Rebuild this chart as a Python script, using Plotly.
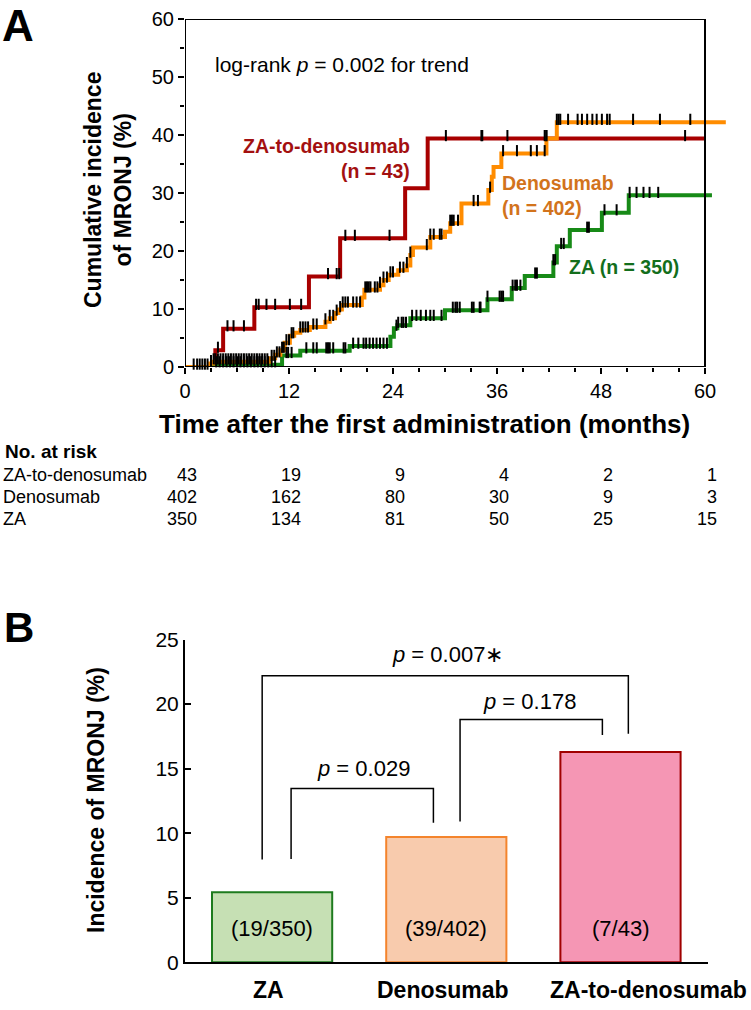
import plotly.graph_objects as go

W, H = 751, 1010
FONT = 'Liberation Sans, Arial, sans-serif'

# ---- Panel A: cumulative incidence steps (months, %) ----
zad_t = [0, 3.5, 4.4, 8.0, 14.3, 17.9, 25.4, 28.0, 60.0]
zad_v = [0, 2.9, 6.6, 10.3, 15.6, 22.2, 30.8, 39.4, 39.4]

den_t = [0, 2.9, 3.3, 9.8, 10.4, 11.0, 11.5, 12.1, 12.6, 13.3, 14.4, 16.2, 16.7, 17.3,
         17.7, 18.1, 20.4, 20.7, 22.5, 22.9, 23.5, 24.6, 25.6, 26.0, 26.3, 28.3, 30.0,
         30.6, 31.9, 35.0, 35.4, 35.6, 36.5, 41.7, 42.9, 62.4]
den_v = [0, 0.6, 0.9, 1.5, 2.1, 2.9, 4.2, 5.4, 5.9, 6.4, 6.9, 7.8, 8.4, 9.3,
         9.9, 10.7, 12.0, 13.3, 14.1, 15.0, 15.9, 16.7, 17.5, 19.3, 20.6, 22.4, 23.3,
         24.8, 28.2, 30.5, 32.8, 34.5, 36.8, 39.4, 42.2, 42.2]

za_t = [0, 3.3, 11.2, 13.3, 19.0, 23.7, 24.1, 24.5, 26.0, 30.0, 34.9, 37.7, 39.2,
        42.5, 42.9, 44.4, 48.1, 51.2, 60.8]
za_v = [0, 0.4, 2.0, 2.8, 3.6, 5.2, 6.7, 7.2, 8.4, 9.8, 11.7, 13.6, 15.7,
        18.0, 20.8, 23.6, 26.6, 29.6, 29.6]

# censored observations (months)
zad_cens = [3.8, 4.9, 5.6, 6.8, 8.2, 8.5, 9.4, 10.4, 12.1, 13.4, 16.5, 17.5, 17.8,
            18.5, 19.6, 23.6, 30.1, 34.2, 34.3, 37.2, 41.5, 41.7, 57.7]
den_cens = [1.0, 1.4, 1.7, 2.0, 2.3, 2.6, 3.0, 3.3, 3.5, 3.8, 4.1, 4.4, 4.7, 5.0, 5.3,
            5.6, 5.9, 6.2, 6.5, 6.8, 7.1, 7.4, 7.7, 8.0, 8.3, 8.6, 8.9, 9.2, 9.5,
            10.0, 10.3, 10.6, 10.9, 11.2, 11.4, 11.7, 12.0, 12.3, 12.5, 13.3, 13.6,
            13.9, 14.2, 14.8, 15.2, 16.2, 16.7, 17.1, 17.5, 17.9, 18.2, 18.5, 18.8,
            19.4, 19.8, 20.2, 20.8, 21.0, 21.2, 21.4, 21.9, 22.2, 22.5, 22.9, 23.3,
            23.7, 24.0, 24.8, 25.2, 25.6, 26.0, 27.9, 28.3, 28.7, 29.4, 29.6, 30.6,
            30.8, 31.0, 31.5, 33.3, 33.8, 35.2, 36.7, 38.3, 39.9, 40.6, 41.5, 41.7,
            42.9, 43.1, 43.3, 44.2, 45.3, 45.8, 46.4, 47.0, 47.5, 48.1, 48.7, 49.0,
            51.7, 54.8, 58.3, 60.0]
za_cens = [3.6, 4.0, 4.4, 4.8, 5.2, 5.6, 6.0, 6.4, 6.8, 7.2, 7.6, 8.0, 8.4, 8.8, 9.2,
           9.6, 10.0, 10.4, 11.7, 11.9,
           12.3, 14.0, 14.8, 15.2, 16.3, 16.5, 16.7, 17.1, 18.3, 18.5, 19.4, 20.0,
           20.6, 20.9, 21.3, 21.7, 22.1, 22.5, 22.9, 23.3, 24.4, 24.6, 25.0, 25.2,
           25.5, 26.2, 26.7, 27.2, 27.8, 28.3, 28.7, 29.6, 30.9, 31.2, 31.4, 31.7,
           33.1, 33.3, 34.0, 34.1, 34.9, 36.3, 36.5, 36.7, 37.8, 38.1, 38.3, 38.7,
           40.4, 40.6, 42.5, 42.7, 43.4, 43.7, 46.4, 46.6, 48.4, 49.8, 51.3, 52.1,
           52.9, 53.6, 54.6]

risk_months = [0, 12, 24, 36, 48, 60]
risk_zad = [43, 19, 9, 4, 2, 1]
risk_den = [402, 162, 80, 30, 9, 3]
risk_za = [350, 134, 81, 50, 25, 15]

# ---- Panel B ----
groups = ['ZA', 'Denosumab', 'ZA-to-denosumab']
incidence = [5.43, 9.70, 16.28]
counts = ['(19/350)', '(39/402)', '(7/43)']
p_texts = ['<i>p</i> = 0.029', '<i>p</i> = 0.178', '<i>p</i> = 0.007\u2217']

RED, ORANGE, GREEN = '#a80000', '#ff8c00', '#178a17'


def px(x):
    return x / W


def py(y):
    return 1 - y / H


def step_at(times, values, t):
    v = values[0]
    for tt, vv in zip(times, values):
        if tt <= t:
            v = vv
    return v


fig = go.Figure()

for t, v, c in [(zad_t, zad_v, RED), (za_t, za_v, GREEN), (den_t, den_v, ORANGE)]:
    fig.add_trace(go.Scatter(x=t, y=v, mode='lines', line=dict(color=c, width=4, shape='hv'),
                             xaxis='x', yaxis='y', hoverinfo='skip'))

for t, v, cens in [(zad_t, zad_v, zad_cens), (za_t, za_v, za_cens), (den_t, den_v, den_cens)]:
    fig.add_trace(go.Scatter(
        x=cens, y=[step_at(t, v, c) + 0.5 for c in cens], mode='markers',
        marker=dict(symbol='line-ns', size=8, line=dict(color='black', width=2)),
        xaxis='x', yaxis='y', cliponaxis=False, hoverinfo='skip'))

fig.add_trace(go.Bar(
    x=[0, 1, 2], y=incidence, width=0.69, xaxis='x2', yaxis='y2',
    marker=dict(color=['#c6e0b4', '#f8cbad', '#f596b4'],
                line=dict(color=['#1e7b1e', '#f4842c', '#a00000'], width=2)),
    hoverinfo='skip'))

# panel A: 0 month at 185px, 8.667 px/month ; 0% at 367px, 5.8 px/%
xa_dom = [px(185), px(185 + 62.5 * 8.667)]
ya_dom = [py(367), py(19)]
xb_dom = [px(185), px(707.6)]
yb_dom = [py(962.3), py(639.5)]

tickfont = dict(family=FONT, size=20, color='black')

fig.update_layout(
    width=W, height=H, margin=dict(l=0, r=0, t=0, b=0, pad=0, autoexpand=False),
    paper_bgcolor='white', plot_bgcolor='white', showlegend=False,
    font=dict(family=FONT, color='black'),
    xaxis=dict(domain=xa_dom, range=[0, 62.5], tickvals=risk_months, ticks='outside',
               ticklen=6, tickwidth=1.5, tickcolor='black', showgrid=False, zeroline=False,
               showline=False, tickfont=tickfont, anchor='y', automargin=False,
               minor=dict(dtick=3, tick0=0, ticks='outside', ticklen=4, tickwidth=1.5,
                          tickcolor='black', showgrid=False)),
    yaxis=dict(domain=ya_dom, range=[0, 60], dtick=10, ticks='outside', ticklen=6,
               tickwidth=1.5, tickcolor='black', showgrid=False, zeroline=False,
               showline=False, tickfont=tickfont, anchor='x', automargin=False,
               minor=dict(dtick=5, ticks='outside', ticklen=4, tickwidth=1.5,
                          tickcolor='black', showgrid=False)),
    xaxis2=dict(domain=xb_dom, range=[-0.5, 2.5], showticklabels=False, ticks='',
                showgrid=False, zeroline=False, showline=True, linecolor='black',
                linewidth=2, anchor='y2', automargin=False),
    yaxis2=dict(domain=yb_dom, range=[0, 25], dtick=5, ticks='inside', ticklen=6,
                tickwidth=1.5, tickcolor='black', showgrid=False, zeroline=False,
                showline=True, linecolor='black', linewidth=2, anchor='x2',
                automargin=False, tickfont=dict(family=FONT, size=21, color='black')),
)

shapes = [dict(type='rect', xref='x', yref='y', x0=0, x1=60, y0=0, y1=60,
               line=dict(color='black', width=2), layer='above')]

# significance brackets in panel B: (x_left, y_left, x_right, y_right, top)
brackets = [(0.109, 8.0, 0.926, 10.8, 13.47),
            (1.079, 10.9, 1.896, 17.6, 18.8),
            (-0.057, 7.97, 2.045, 17.7, 22.2)]
for x0, y0, x1, y1, top in brackets:
    shapes.append(dict(type='path', xref='x2', yref='y2',
                       path=f'M{x0},{y0} L{x0},{top} L{x1},{top} L{x1},{y1}',
                       line=dict(color='black', width=1.5)))
fig.update_layout(shapes=shapes)

ann = []


def add_text(text, x, y, size, color='black', xanchor='center', yanchor='middle',
             xref='paper', yref='paper', angle=0, align='center'):
    ann.append(dict(text=text, x=x, y=y, xref=xref, yref=yref, showarrow=False,
                    xanchor=xanchor, yanchor=yanchor, textangle=angle, align=align,
                    font=dict(family=FONT, size=size, color=color)))


add_text('<b>A</b>', px(0), py(25), 44, xanchor='left')
add_text('<b>B</b>', px(2), py(627), 42, xanchor='left')

add_text('<b>Cumulative incidence<br>of MRONJ (%)</b>', px(108), py(190), 23, angle=-90)
add_text('<b>Time after the first administration (months)</b>', px(424), py(424), 26)
add_text('log-rank <i>p</i> = 0.002 for trend', px(213), py(64), 21, xanchor='left')

add_text('<b>ZA-to-denosumab<br>(n = 43)</b>', px(412), py(158), 19.5, color='#a31010',
         xanchor='right', align='right')
add_text('<b>Denosumab<br>(n = 402)</b>', px(500), py(196), 19.5, color='#d2731c',
         xanchor='left', align='left')
add_text('<b>ZA (n = 350)</b>', px(567), py(267), 19.5, color='#136e1c', xanchor='left')

# number at risk table
add_text('<b>No. at risk</b>', px(3), py(452), 19, xanchor='left')
for row, (name, vals) in enumerate([('ZA-to-denosumab', risk_zad),
                                    ('Denosumab', risk_den), ('ZA', risk_za)]):
    yy = py(475 + 22 * row)
    add_text(name, px(1), yy, 18, xanchor='left')
    for m, n in zip(risk_months, vals):
        ann.append(dict(text=str(n), x=m, y=yy, xref='x', yref='paper', xshift=14,
                        showarrow=False, xanchor='right', yanchor='middle',
                        font=dict(family=FONT, size=18, color='black')))

# panel B texts
add_text('<b>Incidence of MRONJ (%)</b>', px(96), py(800), 23, angle=-90)
for i, c in enumerate(counts):
    add_text(c, i, 2.6, 22, xref='x2', yref='y2')
add_text('<b>ZA</b>', px(268), py(990), 23)
add_text('<b>Denosumab</b>', px(443), py(990), 23)
add_text('<b>ZA-to-denosumab</b>', px(749), py(990), 23, xanchor='right')
p_pos = [(0.523, 15.04), (1.48, 20.17), (1.007, 23.8)]
for (xx, yy), t in zip(p_pos, p_texts):
    add_text(t, xx, yy, 22, xref='x2', yref='y2')

fig.update_layout(annotations=ann)

# drop the default 8px page margin so the figure sits at the window's corner
fig.write_html('out.html', config={'displayModeBar': False},
               post_script="document.body.style.margin='0';")
